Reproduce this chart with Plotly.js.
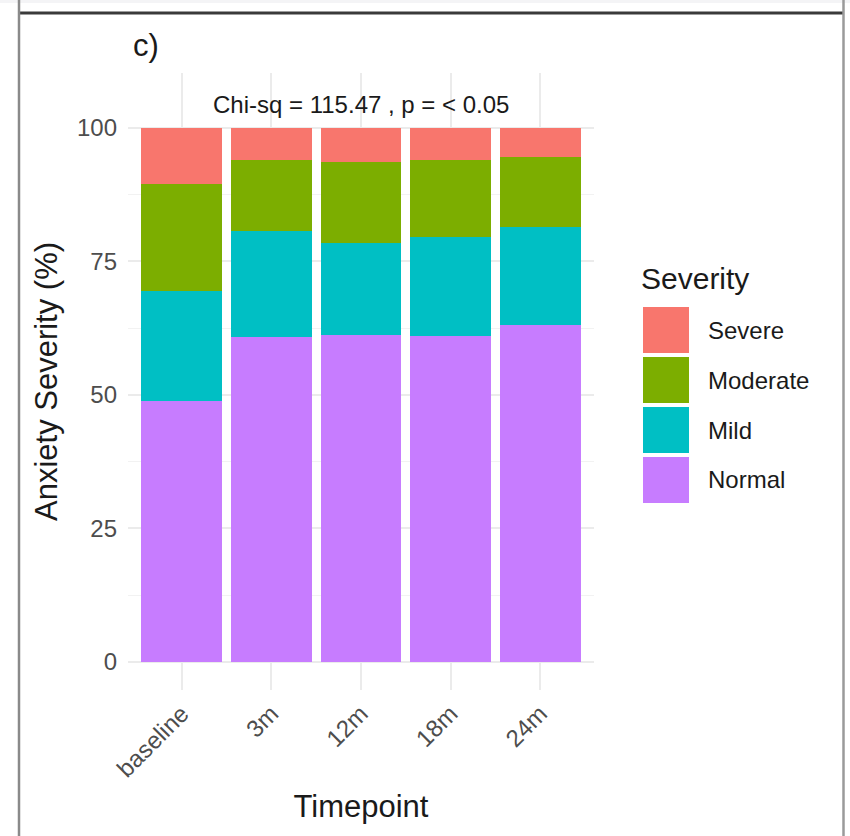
<!DOCTYPE html>
<html>
<head>
<meta charset="utf-8">
<script src="https://cdn.plot.ly/plotly-3.0.1.min.js"></script>
<style>
  html, body { margin: 0; padding: 0; background: #ffffff; }
  #chart { width: 850px; height: 836px; }
</style>
</head>
<body>
<div id="chart"></div>
<script>
// ---- data ----
const timepoints = ['baseline', '3m', '12m', '18m', '24m'];
const normalPct   = [48.8, 60.9, 61.2, 61.0, 63.0];
const mildPct     = [20.7, 19.7, 17.3, 18.5, 18.4];
const moderatePct = [20.0, 13.4, 15.0, 14.5, 13.1];
const severePct   = [10.5, 6.0, 6.5, 6.0, 5.5];
const yTickVals   = [0, 25, 50, 75, 100];
const yTickText   = ['0', '25', '50', '75', '100'];
const legendOrder = ['Severe', 'Moderate', 'Mild', 'Normal'];
const panelLabel  = 'c)';
const statText    = 'Chi-sq = 115.47 , p = < 0.05';

// ---- styles ----
const colors = { Severe: '#F8766D', Moderate: '#7CAE00', Mild: '#00BFC4', Normal: '#C77CFF' };
const FONT = 'Liberation Sans, Arial, Helvetica, sans-serif';

const W = 850, H = 836;
const L = 128, R = 594, T = 73, B = 690;
const px2x = px => (px - L) / (R - L);
const py2y = py => (B - py) / (B - T);

const series = [
  { name: 'Normal',   y: normalPct },
  { name: 'Mild',     y: mildPct },
  { name: 'Moderate', y: moderatePct },
  { name: 'Severe',   y: severePct }
];

const traces = series.map(s => ({
  type: 'bar',
  x: timepoints,
  y: s.y,
  name: s.name,
  marker: { color: colors[s.name], line: { width: 0 } },
  showlegend: false,
  hoverinfo: 'x+y+name'
}));

// custom legend (large ggplot-style keys)
const shapes = [];
const annotations = [];
const keyX0 = 643, keyX1 = 689, keyTop = 307, keyPitch = 50, keySize = 46;
legendOrder.forEach((name, i) => {
  const y0 = keyTop + i * keyPitch;
  shapes.push({
    type: 'rect', xref: 'paper', yref: 'paper',
    x0: px2x(keyX0), x1: px2x(keyX1), y0: py2y(y0 + keySize), y1: py2y(y0),
    fillcolor: colors[name], line: { width: 0 }, layer: 'above'
  });
  annotations.push({
    xref: 'paper', yref: 'paper', x: px2x(706), y: py2y(y0 + keySize / 2),
    xanchor: 'left', yanchor: 'middle', showarrow: false,
    text: name, font: { family: FONT, size: 24, color: '#1a1a1a' }
  });
});
annotations.push({
  xref: 'paper', yref: 'paper', x: px2x(639), y: py2y(278),
  xanchor: 'left', yanchor: 'middle', showarrow: false,
  text: 'Severity', font: { family: FONT, size: 30, color: '#1a1a1a' }
});
// panel label
annotations.push({
  xref: 'paper', yref: 'paper', x: px2x(131), y: py2y(46),
  xanchor: 'left', yanchor: 'middle', showarrow: false,
  text: panelLabel, font: { family: FONT, size: 31, color: '#1a1a1a' }
});
// statistic annotation in data coordinates
annotations.push({
  xref: 'x', yref: 'y', x: timepoints[2], y: 104.4,
  xanchor: 'center', yanchor: 'middle', showarrow: false,
  text: statText, font: { family: FONT, size: 24, color: '#1a1a1a' }
});

// outer frame of the figure panel
shapes.push({ type: 'rect', xref: 'paper', yref: 'paper', x0: px2x(0), x1: px2x(850), y0: py2y(3), y1: py2y(0), fillcolor: '#f4f4f6', line: { width: 0 }, layer: 'below' });
shapes.push({ type: 'line', xref: 'paper', yref: 'paper', x0: px2x(19), x1: px2x(844), y0: py2y(13), y1: py2y(13), line: { color: '#3a3a3a', width: 3 } });
shapes.push({ type: 'line', xref: 'paper', yref: 'paper', x0: px2x(19), x1: px2x(19), y0: py2y(0), y1: py2y(836), line: { color: '#8a8a8a', width: 2.5 } });
shapes.push({ type: 'line', xref: 'paper', yref: 'paper', x0: px2x(843.5), x1: px2x(843.5), y0: py2y(0), y1: py2y(836), line: { color: '#9a9a9a', width: 2.5 } });

const layout = {
  width: W, height: H,
  margin: { l: L, r: W - R, t: T, b: H - B, pad: 0 },
  paper_bgcolor: '#ffffff',
  plot_bgcolor: '#ffffff',
  barmode: 'stack',
  bargap: 0.1,
  showlegend: false,
  font: { family: FONT, color: '#1a1a1a' },
  xaxis: {
    type: 'category',
    categoryorder: 'array', categoryarray: timepoints,
    range: [-0.6, 4.6],
    showgrid: true, gridcolor: '#ebebeb', gridwidth: 2,
    zeroline: false, showline: false,
    ticks: '', tickangle: -45,
    ticklabelstandoff: 4,
    tickfont: { family: FONT, size: 24, color: '#4d4d4d' },
    title: { text: 'Timepoint', font: { family: FONT, size: 31, color: '#1a1a1a' }, standoff: 14 }
  },
  yaxis: {
    range: [-5.25, 110.25],
    tickvals: yTickVals, ticktext: yTickText,
    showgrid: true, gridcolor: '#ebebeb', gridwidth: 2,
    minor: { dtick: 12.5, tick0: 0, showgrid: true, gridcolor: '#f2f2f2', gridwidth: 1.2, ticks: '' },
    zeroline: false, showline: false,
    ticks: '',
    ticklabelstandoff: 10,
    tickfont: { family: FONT, size: 24, color: '#4d4d4d' },
    title: { text: 'Anxiety Severity (%)', font: { family: FONT, size: 31, color: '#1a1a1a' }, standoff: 10 }
  },
  shapes: shapes,
  annotations: annotations
};

Plotly.newPlot('chart', traces, layout, { displayModeBar: false, responsive: false });
</script>
</body>
</html>
